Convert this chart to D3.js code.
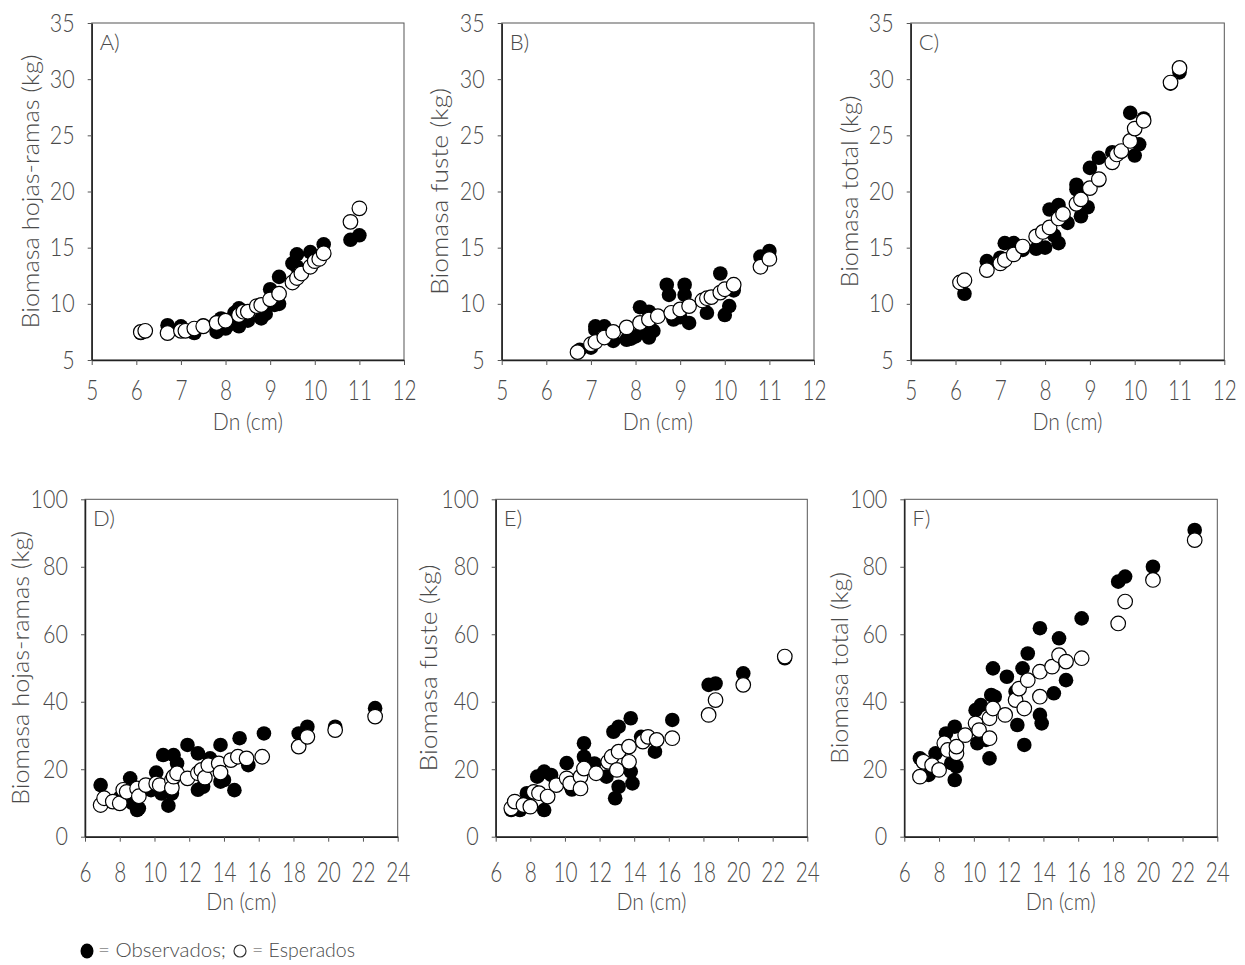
<!DOCTYPE html>
<html>
<head>
<meta charset="utf-8">
<script src="https://cdn.jsdelivr.net/npm/d3@7"></script>
<style>
  body { margin: 0; background: #fff; }
  svg { display: block; }
</style>
</head>
<body>
<div id="chart"></div>
<script>
// Observed (filled) and expected (open) biomass, [Dn (cm), biomass (kg)]
const obsA = [[6.1,7.4],[6.7,8.1],[7.0,8.0],[7.3,7.4],[7.5,8.1],[7.8,7.5],[7.9,8.7],[8.0,7.8],[8.1,8.2],[8.2,9.2],[8.3,9.6],[8.3,8.0],[8.5,8.5],[8.8,8.7],[8.9,9.1],[9.0,11.3],[9.1,9.9],[9.2,12.4],[9.2,10.0],[9.5,13.6],[9.6,14.4],[9.6,13.3],[9.9,14.6],[10.0,14.0],[10.2,15.3],[10.8,15.7],[11.0,16.1]];
const expA = [[6.1,7.5],[6.2,7.6],[6.7,7.4],[7.0,7.6],[7.1,7.6],[7.3,7.8],[7.5,8.0],[7.8,8.3],[8.0,8.5],[8.3,9.0],[8.4,9.3],[8.5,9.3],[8.7,9.8],[8.8,9.9],[9.0,10.4],[9.2,10.9],[9.5,11.9],[9.6,12.3],[9.7,12.7],[9.9,13.3],[10.0,13.8],[10.1,14.0],[10.2,14.5],[10.8,17.3],[11.0,18.5]];

const obsB = [[6.75,5.9],[7.0,6.1],[7.1,7.7],[7.1,8.0],[7.3,8.0],[7.5,6.7],[7.8,6.8],[7.9,6.9],[8.0,7.1],[8.1,9.7],[8.2,7.5],[8.3,7.0],[8.3,9.3],[8.4,7.6],[8.7,11.7],[8.75,10.8],[8.85,8.6],[9.0,8.8],[9.1,11.7],[9.1,10.8],[9.2,8.3],[9.6,9.2],[9.9,12.7],[10.0,9.0],[10.1,9.8],[10.2,11.2],[10.8,14.2],[11.0,14.7]];
const expB = [[6.7,5.7],[7.0,6.4],[7.1,6.6],[7.3,7.0],[7.5,7.5],[7.8,7.9],[8.1,8.3],[8.3,8.6],[8.5,8.9],[8.8,9.2],[9.0,9.5],[9.2,9.8],[9.5,10.3],[9.6,10.5],[9.7,10.6],[9.9,11.0],[10.0,11.3],[10.2,11.7],[10.8,13.3],[11.0,14.0]];

const obsC = [[6.2,10.9],[6.7,13.8],[7.0,14.1],[7.1,15.4],[7.3,15.4],[7.5,14.8],[7.8,14.9],[8.0,15.0],[8.1,18.4],[8.3,18.8],[8.2,16.1],[8.3,15.4],[8.5,17.2],[8.7,20.6],[8.7,20.2],[8.8,17.8],[8.95,18.6],[9.0,22.1],[9.2,23.0],[9.2,21.0],[9.5,23.5],[9.6,23.4],[9.9,27.0],[10.0,23.2],[10.1,24.2],[10.2,26.5],[10.8,29.6],[11.0,30.6]];
const expC = [[6.1,11.9],[6.2,12.1],[6.7,13.0],[7.0,13.6],[7.1,13.9],[7.3,14.4],[7.5,15.1],[7.8,16.0],[7.95,16.4],[8.1,16.8],[8.3,17.6],[8.4,18.0],[8.7,18.9],[8.8,19.3],[9.0,20.3],[9.2,21.1],[9.5,22.6],[9.6,23.3],[9.7,23.6],[9.9,24.5],[10.0,25.6],[10.2,26.3],[10.8,29.7],[11.0,31.0]];

const obsD = [[6.9,15.3],[8.0,11.5],[8.5,11.9],[8.6,17.3],[8.7,10.0],[9.0,7.9],[9.1,8.4],[9.8,13.8],[10.1,19.0],[10.4,12.8],[10.5,24.2],[10.8,9.2],[11.0,12.8],[11.1,24.2],[11.3,21.7],[11.9,27.2],[12.5,24.7],[12.5,13.9],[12.8,14.8],[13.2,23.2],[13.8,27.2],[13.8,16.3],[14.0,16.8],[14.6,13.8],[14.9,29.2],[15.4,21.2],[16.3,30.6],[18.3,30.6],[18.8,32.6],[20.4,32.6],[22.7,38.1]];
const expD = [[6.9,9.4],[7.1,11.4],[7.6,10.4],[8.0,9.9],[8.2,13.9],[8.4,13.3],[9.0,14.3],[9.1,12.0],[9.5,15.3],[10.1,15.8],[10.3,15.3],[11.0,16.8],[11.0,14.5],[11.1,17.8],[11.3,18.8],[11.9,17.3],[12.5,18.8],[12.7,19.8],[12.9,17.5],[13.1,21.2],[13.7,21.7],[13.8,19.0],[14.4,22.7],[14.8,23.7],[15.3,23.2],[16.2,23.7],[18.3,26.7],[18.8,29.6],[20.4,31.6],[22.7,35.6]];

const obsE = [[6.9,7.9],[7.4,7.9],[7.8,12.9],[8.4,17.8],[8.8,19.3],[8.8,7.9],[9.2,18.3],[10.1,21.8],[10.3,15.3],[10.4,14.0],[11.1,27.7],[11.1,23.7],[11.7,21.7],[12.4,17.8],[12.8,31.1],[13.1,32.6],[12.9,11.4],[13.1,14.8],[13.8,35.1],[13.9,15.8],[13.8,19.3],[14.4,29.6],[15.2,25.2],[16.2,34.6],[18.3,45.0],[18.7,45.4],[20.3,48.4],[22.7,52.9]];
const expE = [[6.9,8.4],[7.1,10.4],[7.6,9.4],[8.0,8.9],[8.2,13.3],[8.5,12.9],[9.0,11.9],[9.5,15.3],[10.1,17.3],[10.3,15.8],[10.9,17.8],[10.9,14.3],[11.1,20.2],[11.8,18.8],[12.5,22.2],[12.7,23.7],[13.0,19.8],[13.1,25.2],[13.7,26.7],[13.7,22.2],[14.5,28.2],[14.8,29.6],[15.3,28.7],[16.2,29.2],[18.3,36.1],[18.7,40.5],[20.3,45.0],[22.7,53.4]];

const obsF = [[6.9,23.2],[7.4,18.3],[7.8,24.7],[8.4,30.6],[8.7,21.8],[8.9,16.8],[8.9,32.6],[9.0,20.8],[10.1,37.5],[10.2,27.7],[10.4,39.0],[10.7,28.7],[10.9,23.2],[11.0,42.0],[11.1,49.9],[11.2,41.5],[11.9,47.4],[12.4,43.0],[12.5,33.1],[12.8,49.9],[13.1,54.3],[12.9,27.2],[13.8,61.8],[13.8,36.1],[13.9,33.6],[14.6,42.5],[14.9,58.8],[15.3,46.4],[16.2,64.7],[18.3,75.6],[18.7,77.1],[20.3,80.0],[22.7,90.9]];
const expF = [[6.9,17.8],[7.1,22.2],[7.6,21.2],[8.0,19.8],[8.3,27.7],[8.5,25.7],[9.0,24.7],[9.0,26.7],[9.5,30.1],[10.1,33.6],[10.3,31.6],[10.9,35.1],[10.9,29.2],[11.1,38.0],[11.8,36.1],[12.4,40.5],[12.6,43.9],[12.9,38.0],[13.1,46.4],[13.8,48.9],[13.8,41.5],[14.5,50.4],[14.9,53.8],[15.3,51.9],[16.2,52.9],[18.3,63.2],[18.7,69.7],[20.3,76.1],[22.7,87.9]];

// tick values
const xTicksTop = [5, 6, 7, 8, 9, 10, 11, 12];
const yTicksTop = [5, 10, 15, 20, 25, 30, 35];
const xTicksBottom = [6, 8, 10, 12, 14, 16, 18, 20, 22, 24];
const yTicksBottom = [0, 20, 40, 60, 80, 100];

const font = "'Lato', 'Open Sans', sans-serif";
const textColor = "#4a4a4a";

const panels = [
  { tag: "A)", title: "Biomasa hojas-ramas (kg)", len: 274, obs: obsA, exp: expA, row: "top", left: 91.7, w: 312.3, titleOff: 53 },
  { tag: "B)", title: "Biomasa fuste (kg)",       len: 207, obs: obsB, exp: expB, row: "top", left: 501.7, w: 312.3, titleOff: 54 },
  { tag: "C)", title: "Biomasa total (kg)",       len: 192, obs: obsC, exp: expC, row: "top", left: 910.7, w: 313.6, titleOff: 53 },
  { tag: "D)", title: "Biomasa hojas-ramas (kg)", len: 274, obs: obsD, exp: expD, row: "bottom", left: 85, w: 312.7, titleOff: 56 },
  { tag: "E)", title: "Biomasa fuste (kg)",       len: 207, obs: obsE, exp: expE, row: "bottom", left: 495.7, w: 311.6, titleOff: 59 },
  { tag: "F)", title: "Biomasa total (kg)",       len: 192, obs: obsF, exp: expF, row: "bottom", left: 904.3, w: 313, titleOff: 56 }
];

const rows = {
  top:    { top: 23,    h: 337,   xDom: [5, 12], yDom: [5, 35],  xt: xTicksTop,    yt: yTicksTop,    xPad: 15, dnOff: 70 },
  bottom: { top: 499.3, h: 337.4, xDom: [6, 24], yDom: [0, 100], xt: xTicksBottom, yt: yTicksBottom, xPad: 20, dnOff: 73 }
};

const sxX = 0.74, sxY = 0.86;  // narrow the tick digits

const svg = d3.select("#chart").append("svg")
  .attr("width", 1245)
  .attr("height", 965)
  .style("background", "#fff");

panels.forEach(p => {
  const r = rows[p.row];
  const g = svg.append("g").attr("transform", `translate(${p.left},${r.top})`);

  const x = d3.scaleLinear().domain(r.xDom).range([0, p.w]);
  const y = d3.scaleLinear().domain(r.yDom).range([r.h, 0]);

  // frame
  g.append("rect")
    .attr("width", p.w)
    .attr("height", r.h)
    .attr("fill", "none")
    .attr("stroke", "#555")
    .attr("stroke-width", 1);

  const xAxis = g.append("g")
    .attr("transform", `translate(0,${r.h})`)
    .call(d3.axisBottom(x).tickValues(r.xt).tickSize(5).tickSizeOuter(0).tickPadding(r.xPad).tickFormat(d3.format("d")));
  const yAxis = g.append("g")
    .call(d3.axisLeft(y).tickValues(r.yt).tickSize(4).tickSizeOuter(0).tickPadding(13).tickFormat(d3.format("d")));

  [xAxis, yAxis].forEach(a => {
    a.select(".domain").attr("stroke", "#222").attr("stroke-width", 1.5);
    a.selectAll(".tick line").attr("stroke", "#555");
    a.selectAll(".tick text")
      .attr("font-family", font)
      .attr("font-weight", 300)
      .attr("fill", textColor);
  });
  xAxis.selectAll(".tick text")
    .attr("font-size", 28)
    .attr("transform", `scale(${sxX},1)`);
  yAxis.selectAll(".tick text")
    .attr("font-size", 25)
    .attr("x", -17 / sxY)
    .attr("transform", `scale(${sxY},1)`);

  // axis titles
  g.append("text")
    .attr("x", p.w / 2)
    .attr("y", r.h + r.dnOff)
    .attr("text-anchor", "middle")
    .attr("font-family", font)
    .attr("font-weight", 300)
    .attr("font-size", 24)
    .attr("textLength", 70)
    .attr("lengthAdjust", "spacingAndGlyphs")
    .attr("fill", textColor)
    .text("Dn (cm)");

  g.append("text")
    .attr("transform", `translate(${-p.titleOff},${r.h / 2}) rotate(-90)`)
    .attr("text-anchor", "middle")
    .attr("font-family", font)
    .attr("font-weight", 300)
    .attr("font-size", 23)
    .attr("textLength", p.len)
    .attr("lengthAdjust", "spacingAndGlyphs")
    .attr("fill", textColor)
    .text(p.title);

  // panel letter
  g.append("text")
    .attr("x", 8)
    .attr("y", 27)
    .attr("font-family", font)
    .attr("font-weight", 300)
    .attr("font-size", 22)
    .attr("fill", textColor)
    .text(p.tag);

  // observed first, expected on top
  g.selectAll("circle.obs")
    .data(p.obs)
    .join("circle")
    .attr("class", "obs")
    .attr("cx", d => x(d[0]))
    .attr("cy", d => y(d[1]))
    .attr("r", 7.3)
    .attr("fill", "#000");

  g.selectAll("circle.exp")
    .data(p.exp)
    .join("circle")
    .attr("class", "exp")
    .attr("cx", d => x(d[0]))
    .attr("cy", d => y(d[1]))
    .attr("r", 7.3)
    .attr("fill", "#fff")
    .attr("stroke", "#000")
    .attr("stroke-width", 1.2);
});

// legend
const lg = svg.append("g").attr("transform", "translate(87,951)");
lg.append("ellipse").attr("rx", 6.5).attr("ry", 7.5).attr("fill", "#000");
lg.append("text")
  .attr("x", 11).attr("y", 6)
  .attr("font-family", font).attr("font-weight", 300).attr("font-size", 19).attr("fill", textColor)
  .attr("textLength", 128).attr("lengthAdjust", "spacingAndGlyphs")
  .text("= Observados;");
lg.append("circle").attr("cx", 153).attr("r", 6)
  .attr("fill", "#fff").attr("stroke", "#333").attr("stroke-width", 1.2);
lg.append("text")
  .attr("x", 165).attr("y", 6)
  .attr("font-family", font).attr("font-weight", 300).attr("font-size", 19).attr("fill", textColor)
  .attr("textLength", 103).attr("lengthAdjust", "spacingAndGlyphs")
  .text("= Esperados");
</script>
</body>
</html>
